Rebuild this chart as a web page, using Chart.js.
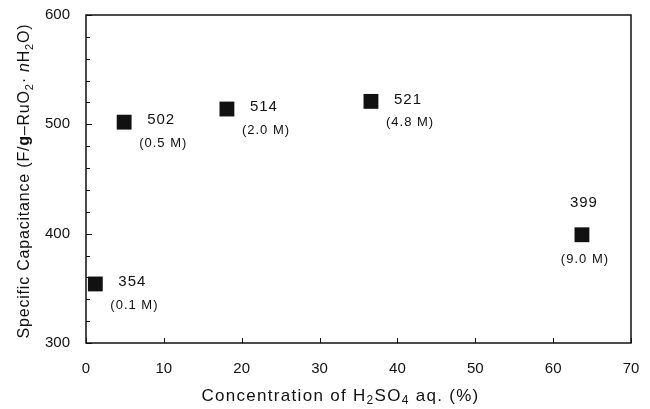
<!DOCTYPE html>
<html>
<head>
<meta charset="utf-8">
<script src="https://cdn.jsdelivr.net/npm/chart.js@4.4.0/dist/chart.umd.min.js"></script>
<style>
  html, body { margin: 0; padding: 0; background: #fff; }
  #wrap { width: 650px; height: 409px; }
</style>
</head>
<body>
<div id="wrap"><canvas id="myChart"></canvas></div>
<script>
// concentration of H2SO4 (%) and specific capacitance (F/g)
var concentration = [1.2, 4.9, 18.1, 36.6, 63.7];
var capacitance = [354, 502, 514, 521, 399];
var molarity = ["(0.1 M)", "(0.5 M)", "(2.0 M)", "(4.8 M)", "(9.0 M)"];
var xTicks = [0, 10, 20, 30, 40, 50, 60, 70];
var yTicks = [300, 400, 500, 600];

// where to put the labels: "right" or "above"
var labelPlace = ["right", "right", "right", "right", "above"];

var FONT = "'Liberation Sans', Arial, sans-serif";

// frame, inward ticks, point labels and axis titles
var decor = {
    id: "decor",
    afterDraw: function (chart) {
        var ctx = chart.ctx;
        var a = chart.chartArea;
        var xs = chart.scales.x;
        var ys = chart.scales.y;
        ctx.save();
        ctx.strokeStyle = "#111";
        ctx.lineWidth = 1.5;
        ctx.strokeRect(a.left, a.top, a.right - a.left, a.bottom - a.top);

        ctx.lineWidth = 1;
        ctx.beginPath();
        xTicks.forEach(function (v) {
            var px = Math.round(xs.getPixelForValue(v)) + 0.5;
            ctx.moveTo(px, a.bottom);
            ctx.lineTo(px, a.bottom - 5);
        });
        for (var v = 300; v <= 600; v += 20) {
            var py = Math.round(ys.getPixelForValue(v)) + 0.5;
            ctx.moveTo(a.left, py);
            ctx.lineTo(a.left + (v % 100 === 0 ? 6 : 4), py);
        }
        ctx.stroke();

        // point labels
        ctx.fillStyle = "#111";
        var meta = chart.getDatasetMeta(0);
        meta.data.forEach(function (pt, i) {
            var x = pt.x, y = pt.y;
            ctx.letterSpacing = "1px";
            ctx.textBaseline = "middle";
            if (labelPlace[i] === "above") {
                ctx.textAlign = "center";
                ctx.font = "15px " + FONT;
                ctx.fillText(String(capacitance[i]), x + 2, y - 32);
                ctx.font = "13px " + FONT;
                ctx.fillText(molarity[i], x + 3, y + 25);
            } else {
                ctx.textAlign = "left";
                ctx.font = "15px " + FONT;
                ctx.fillText(String(capacitance[i]), x + 23, y - 2);
                ctx.font = "13px " + FONT;
                ctx.fillText(molarity[i], x + 15, y + 21);
            }
        });
        ctx.letterSpacing = "0px";

        // axis titles with subscripts
        drawRich(ctx, [
            ["Concentration of H", ""], ["2", "sub"], ["SO", ""], ["4", "sub"], [" aq. (%)", ""]
        ], (a.left + a.right) / 2 - 18, 396, 0, 17, "1.3px");
        drawRich(ctx, [
            ["Specific Capacitance (F/", ""], ["g", "bold"], ["\u2013RuO", ""], ["2", "sub"],
            ["\u00b7 ", ""], ["n", "italic"], ["H", ""], ["2", "sub"], ["O)", ""]
        ], 25, (a.top + a.bottom) / 2 + 2, -Math.PI / 2, 16, "0.8px");
        ctx.restore();
    }
};

function segFont(kind, size) {
    if (kind === "sub") return Math.round(size * 0.68) + "px " + FONT;
    if (kind === "bold") return "bold " + size + "px " + FONT;
    if (kind === "italic") return "italic " + size + "px " + FONT;
    return size + "px " + FONT;
}

function drawRich(ctx, parts, cx, cy, rot, size, spacing) {
    ctx.save();
    ctx.letterSpacing = spacing;
    var total = 0;
    parts.forEach(function (p) {
        ctx.font = segFont(p[1], size);
        total += ctx.measureText(p[0]).width;
    });
    ctx.translate(cx, cy);
    ctx.rotate(rot);
    ctx.textAlign = "left";
    ctx.textBaseline = "middle";
    var x = -total / 2;
    parts.forEach(function (p) {
        ctx.font = segFont(p[1], size);
        ctx.fillText(p[0], x, p[1] === "sub" ? size * 0.28 : 0);
        x += ctx.measureText(p[0]).width;
    });
    ctx.restore();
}

var ctx = document.getElementById("myChart").getContext("2d");
var chart = new Chart(ctx, {
    type: "scatter",
    data: {
        datasets: [
            {
                label: "Specific capacitance",
                data: concentration.map(function (c, i) {
                    return { x: c, y: capacitance[i] };
                }),
                pointStyle: "rect",
                pointRadius: 10.5,
                pointHoverRadius: 10.5,
                backgroundColor: "#111",
                borderColor: "#111",
                borderWidth: 0
            }
        ]
    },
    options: {
        responsive: true,
        maintainAspectRatio: false,
        animation: false,
        events: [],
        layout: { padding: { left: 0, right: 19, top: 15, bottom: 0 } },
        plugins: {
            legend: { display: false },
            tooltip: { enabled: false }
        },
        scales: {
            x: {
                type: "linear",
                min: 0,
                max: 70,
                afterBuildTicks: function (scale) {
                    scale.ticks = xTicks.map(function (v) { return { value: v }; });
                },
                grid: { display: false, drawTicks: false },
                border: { display: false },
                ticks: {
                    color: "#111",
                    padding: 17,
                    font: { family: FONT, size: 15 }
                },
                afterFit: function (scale) {
                    scale.height = 66;
                    scale.paddingLeft = 0;
                    scale.paddingRight = 0;
                }
            },
            y: {
                type: "linear",
                min: 300,
                max: 600,
                afterBuildTicks: function (scale) {
                    scale.ticks = yTicks.map(function (v) { return { value: v }; });
                },
                grid: { display: false, drawTicks: false },
                border: { display: false },
                ticks: {
                    color: "#111",
                    padding: 16,
                    font: { family: FONT, size: 15 }
                },
                afterFit: function (scale) {
                    scale.width = 86;
                    scale.paddingTop = 0;
                    scale.paddingBottom = 0;
                }
            }
        }
    },
    plugins: [decor]
});
</script>
</body>
</html>
